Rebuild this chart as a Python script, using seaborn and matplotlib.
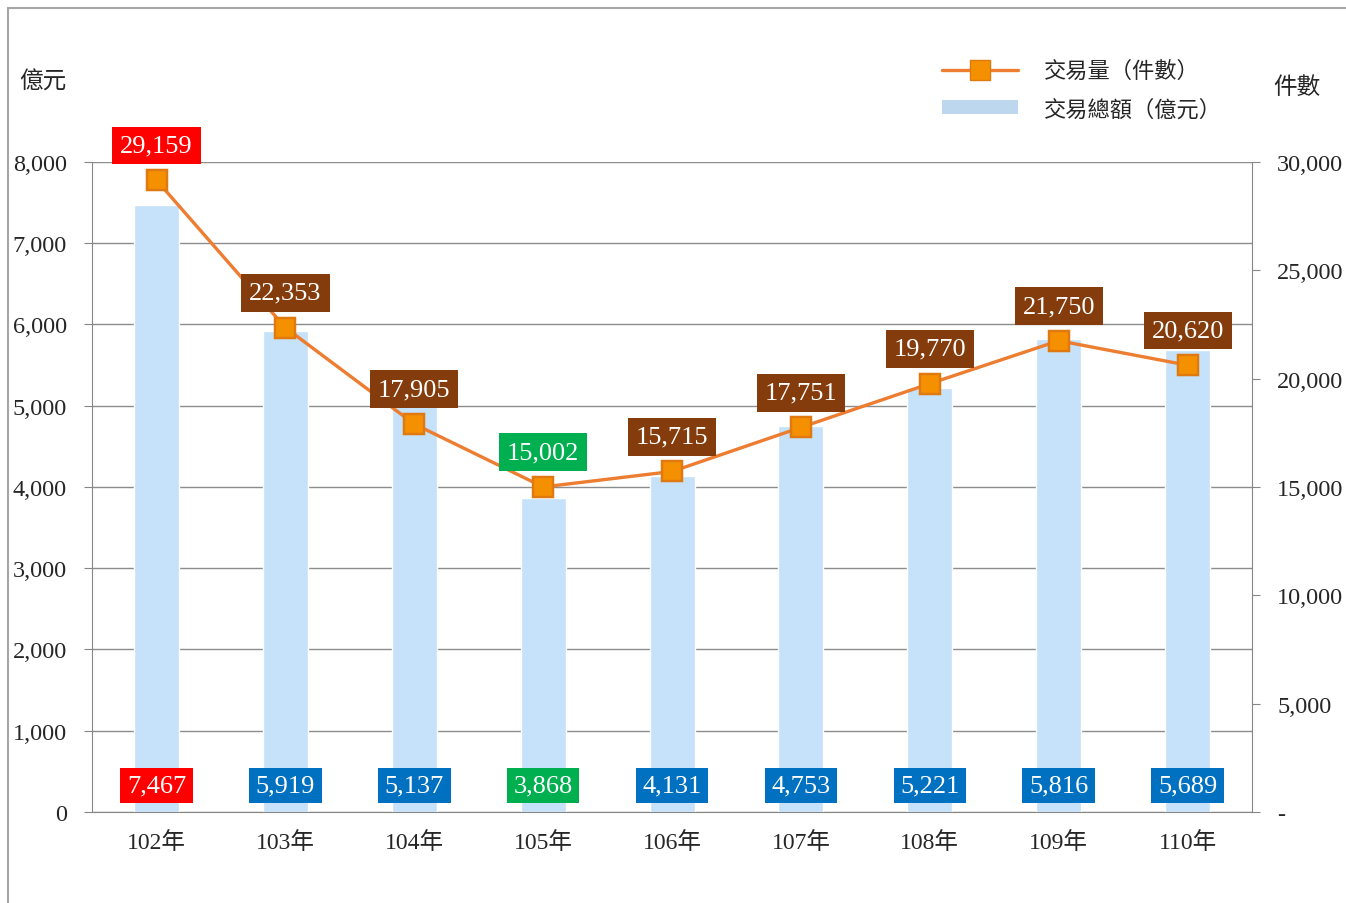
import matplotlib
matplotlib.use("Agg")
import matplotlib.pyplot as plt
import seaborn as sns
import pandas as pd
from matplotlib.lines import Line2D
from matplotlib.patches import Patch, Rectangle
from matplotlib.ticker import FuncFormatter, MultipleLocator, FixedLocator

years = ["102年", "103年", "104年", "105年", "106年", "107年", "108年", "109年", "110年"]
amount = [7467, 5919, 5137, 3868, 4131, 4753, 5221, 5816, 5689]      # 億元
count = [29159, 22353, 17905, 15002, 15715, 17751, 19770, 21750, 20620]  # 件數

# label box colours: max red, min green, others default
bar_lab_colors = ["#FF0000", "#0070C0", "#0070C0", "#00B050", "#0070C0",
                  "#0070C0", "#0070C0", "#0070C0", "#0070C0"]
line_lab_colors = ["#FF0000", "#843C0C", "#843C0C", "#00B050", "#843C0C",
                   "#843C0C", "#843C0C", "#843C0C", "#843C0C"]

sns.set_style("white")
plt.rcParams['font.family'] = ['Liberation Serif', 'Noto Sans CJK TC']

df = pd.DataFrame({"year": years, "amount": amount, "count": count})

fig = plt.figure(figsize=(13.46, 9.04), dpi=100)
ax = fig.add_axes([0.0684, 0.1007, 0.8618, 0.719])

sns.barplot(data=df, x="year", y="amount", color="#C5E2FA", saturation=1,
            width=0.35, ax=ax, zorder=2)
ax.set_ylim(0, 8000)
ax.set_xlim(-0.5, 8.5)
ax.yaxis.set_major_locator(MultipleLocator(1000))
ax.yaxis.set_major_formatter(FuncFormatter(lambda v, p: f"{v:,.0f}"))
ax.grid(axis="y", color="#8C8C8C", linewidth=1.0, zorder=0)
ax.set_axisbelow(True)
ax.set_xlabel("")
ax.set_ylabel("")
for s in ["left", "bottom"]:
    ax.spines[s].set_color("#868686")
ax.spines["top"].set_visible(False)
ax.spines["right"].set_visible(False)
ax.tick_params(axis="y", direction="out", length=6, color="#868686",
               labelsize=17.5, pad=12, left=True)
ax.tick_params(axis="x", which="major", length=0, labelsize=17, pad=14)
ax.xaxis.set_minor_locator(FixedLocator([i - 0.5 for i in range(len(years) + 1)]))
ax.tick_params(axis="x", which="minor", direction="out", length=7, color="#868686")

ax2 = ax.twinx()
sns.pointplot(data=df, x="year", y="count", color="#ED7D31", markers="s",
              linewidth=2.4, markersize=14, ax=ax2, errorbar=None,
              markerfacecolor="#F59100", markeredgecolor="#E07A10")
ax2.set_ylim(0, 30000)
ax2.set_xlim(-0.5, 8.5)
ax2.yaxis.set_major_locator(MultipleLocator(5000))
ax2.yaxis.set_major_formatter(FuncFormatter(lambda v, p: "-" if v == 0 else f"{v:,.0f}"))
ax2.set_ylabel("")
ax2.set_xlabel("")
for s in ["top", "left", "bottom"]:
    ax2.spines[s].set_visible(False)
ax2.spines["right"].set_color("#868686")
ax2.tick_params(axis="y", direction="out", length=6, color="#868686",
                labelsize=17.5, pad=12, right=True)

for i, v in enumerate(count):
    ax2.annotate(f"{v:,}", (i, v), xytext=(0, 25), textcoords="offset points",
                 ha="center", va="center", color="white", fontsize=19, zorder=5,
                 bbox=dict(boxstyle="square,pad=0.3", fc=line_lab_colors[i], ec="none"))

for i, v in enumerate(amount):
    ax.annotate(f"{v:,}", (i, 0), xytext=(0, 19), textcoords="offset points",
                ha="center", va="center", color="white", fontsize=19, zorder=5,
                bbox=dict(boxstyle="square,pad=0.25", fc=bar_lab_colors[i], ec="none"))

fig.text(43 / 1346, 1 - 83 / 904, "億元", ha="center", va="center", fontsize=17)
fig.text(1297 / 1346, 1 - 88 / 904, "件數", ha="center", va="center", fontsize=17)

handles = [Line2D([], [], color="#ED7D31", lw=2.4, marker="s", markersize=15,
                  markerfacecolor="#F59100", markeredgecolor="#E07A10"),
           Patch(facecolor="#BDD7EE", edgecolor="none")]
fig.legend(handles, ["交易量（件數）", "交易總額（億元）"], loc="upper left",
           bbox_to_anchor=(922 / 1346, 1 - 42 / 904), frameon=False, fontsize=16,
           handlelength=3.4, handleheight=0.6, handletextpad=1.2, labelspacing=0.75)

fig.patches.append(Rectangle((8 / 1346, -0.2), 1.2, 1.19, fill=False,
                             edgecolor="#A6A6A6", lw=1.5, transform=fig.transFigure))

fig.savefig("out.png", dpi=100)
